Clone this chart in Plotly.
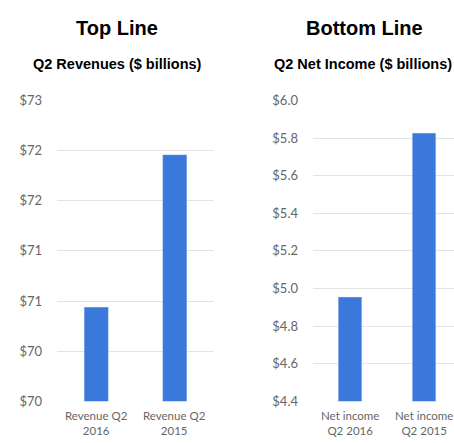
import plotly.graph_objects as go

# Quarterly comparison data
rev_categories = ["Revenue Q2<br>2016", "Revenue Q2<br>2015"]
rev_values = [70.94, 72.46]
rev_tickvals = [70.0, 70.5, 71.0, 71.5, 72.0, 72.5, 73.0]
rev_ticktext = ["$70", "$70", "$71", "$71", "$72", "$72", "$73"]

ni_categories = ["Net income<br>Q2 2016", "Net income<br>Q2 2015"]
ni_values = [4.955, 5.827]
ni_tickvals = [4.4, 4.6, 4.8, 5.0, 5.2, 5.4, 5.6, 5.8, 6.0]
ni_ticktext = ["$4.4", "$4.6", "$4.8", "$5.0", "$5.2", "$5.4", "$5.6", "$5.8", "$6.0"]

W, H = 454, 443
BAR = "#3b78dc"
GRID = "#e3e3e3"
LABEL = "#666666"
TICK_FONT = dict(family="Lato, 'Open Sans', sans-serif", size=13, color=LABEL)
CAT_FONT = dict(family="Lato, 'Open Sans', sans-serif", size=11.5, color=LABEL)
HEAD_FONT = "'Liberation Sans Narrow', 'Liberation Sans', Arial, sans-serif"

fig = go.Figure()
fig.add_trace(go.Bar(x=rev_categories, y=rev_values, marker_color=BAR,
                     width=0.31, xaxis="x", yaxis="y", showlegend=False))
fig.add_trace(go.Bar(x=ni_categories, y=ni_values, marker_color=BAR,
                     width=0.32, xaxis="x2", yaxis="y2", showlegend=False))

ydom = [(H - 408) / H, (H - 96) / H]


def category_labels(categories, xref):
    # Two-line category labels sitting at the bottom edge, under each bar
    return [dict(text=cat, x=cat, xref=xref, y=0, yref="paper", yshift=-3,
                 showarrow=False, xanchor="center", yanchor="bottom", borderpad=0,
                 font=CAT_FONT)
            for cat in categories]


headings = [
    dict(text="<b>Top Line</b>", x=117 / W, y=1 - 21 / H, size=20),
    dict(text="<b>Q2 Revenues ($ billions)</b>", x=117.5 / W, y=1 - 58 / H, size=14.5),
    dict(text="<b>Bottom Line</b>", x=364.5 / W, y=1 - 21 / H, size=20),
    dict(text="<b>Q2 Net Income ($ billions)</b>", x=363 / W, y=1 - 58 / H, size=14.5),
]
heading_notes = [
    dict(text=h["text"], x=h["x"], y=h["y"], xref="paper", yref="paper", showarrow=False,
         xanchor="center", yanchor="middle",
         font=dict(family=HEAD_FONT, size=h["size"], color="black"))
    for h in headings
]

fig.update_layout(
    width=W, height=H,
    margin=dict(l=0, r=0, t=0, b=0),
    paper_bgcolor="white", plot_bgcolor="white",
    xaxis=dict(domain=[57 / W, 214 / W], range=[-0.5, 1.5], showgrid=False,
               showline=False, zeroline=False, ticks="", showticklabels=False, anchor="y"),
    yaxis=dict(domain=ydom, range=[70, 73], tickvals=rev_tickvals, ticktext=rev_ticktext,
               showgrid=True, gridcolor=GRID, gridwidth=1, zeroline=False, showline=False,
               ticks="", tickfont=TICK_FONT, ticklabelstandoff=14, anchor="x"),
    xaxis2=dict(domain=[313 / W, 1.0], range=[-0.5, 1.405], showgrid=False,
                showline=False, zeroline=False, ticks="", showticklabels=False, anchor="y2"),
    yaxis2=dict(domain=ydom, range=[4.4, 6.0], tickvals=ni_tickvals, ticktext=ni_ticktext,
                showgrid=True, gridcolor=GRID, gridwidth=1, zeroline=False, showline=False,
                ticks="", tickfont=TICK_FONT, ticklabelstandoff=14, anchor="x2"),
    annotations=heading_notes
    + category_labels(rev_categories, "x")
    + category_labels(ni_categories, "x2"),
)

fig.write_html("out.html")
